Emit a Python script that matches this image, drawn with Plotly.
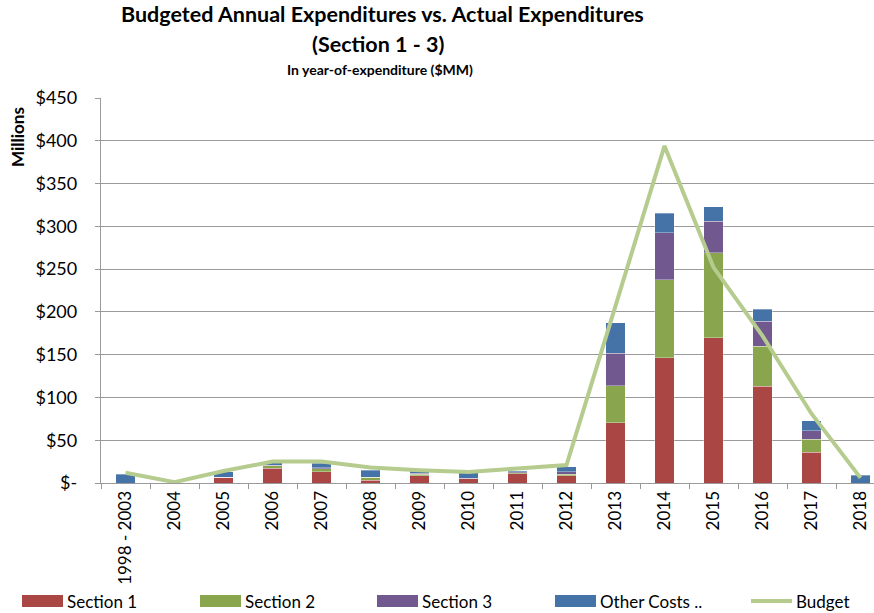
import plotly.graph_objects as go

categories = ["1998 - 2003", "2004", "2005", "2006", "2007", "2008", "2009", "2010",
              "2011", "2012", "2013", "2014", "2015", "2016", "2017", "2018"]
section1 = [0, 0, 7, 17.5, 13, 3.5, 8.5, 5, 11, 8.5, 70.5, 146.5, 170, 113, 36, 0]
section2 = [0, 0, 0, 2.5, 3.5, 3, 2, 0, 1, 1.5, 43, 91, 99, 47, 15, 0]
section3 = [0, 0, 0, 0.5, 1.5, 0.5, 1, 0.5, 1, 3, 38, 55, 37, 29, 10, 0]
other_costs = [10, 0, 6, 3, 5, 8, 2, 6.5, 1.5, 6, 36, 23, 17, 14, 11.5, 9]
budget = [12, 1, 14, 25, 25, 18, 15, 13, 17, 21, 207, 394, 252, 172, 81, 6]

y_tickvals = [0, 50, 100, 150, 200, 250, 300, 350, 400, 450]
y_ticktext = ["$-", "$50", "$100", "$150", "$200", "$250", "$300", "$350", "$400", "$450"]

series_names = ["Section 1", "Section 2", "Section 3", "Other Costs .."]
series_values = [section1, section2, section3, other_costs]
series_colors = ["#AA4643", "#89A54E", "#71588F", "#4572A7"]
budget_color = "#B5CC8E"

W, H = 874, 613
ML, MR, MT, MB = 101, 0, 98, 130
PW = W - ML - MR
PH = H - MT - MB
CAT_W = 49.0

def px_x(px):
    return (px - ML) / PW

def px_y(py):
    return (H - MB - py) / PH

FONT = "Lato, 'Open Sans', sans-serif"

fig = go.Figure()
for name, vals, col in zip(series_names, series_values, series_colors):
    fig.add_trace(go.Bar(
        x=categories, y=vals, name=name, marker_color=col,
        marker_line=dict(color="rgba(255,255,255,0.55)", width=0.6),
        width=0.4, showlegend=False,
    ))
fig.add_trace(go.Scatter(
    x=categories, y=budget, name="Budget", mode="lines",
    line=dict(color=budget_color, width=4), showlegend=False,
))

fig.update_layout(
    width=W, height=H,
    margin=dict(l=ML, r=MR, t=MT, b=MB, autoexpand=False),
    barmode="stack",
    paper_bgcolor="white", plot_bgcolor="white",
    font=dict(family=FONT, color="black"),
    showlegend=False,
)
fig.update_xaxes(
    type="category", range=[-0.5, -0.5 + PW / CAT_W],
    tickangle=-90, tickfont=dict(size=17, family=FONT, color="black"),
    showline=True, linecolor="#9A9A9A", linewidth=1.3,
    ticks="outside", ticklen=5, tickcolor="#9A9A9A", tickson="boundaries",
    showgrid=False,
)
fig.update_yaxes(
    range=[0, 450], tickvals=y_tickvals, ticktext=y_ticktext,
    tickfont=dict(size=18, family=FONT, color="black"),
    showline=True, linecolor="#9A9A9A", linewidth=1.3,
    ticks="outside", ticklen=5, tickcolor="#9A9A9A",
    ticklabelstandoff=14,
    showgrid=True, gridcolor="#9A9A9A", gridwidth=1.3,
    zeroline=False,
)

# Titles
title_lines = [
    ("Budgeted Annual Expenditures vs. Actual Expenditures", 21.5, 14, 382),
    ("(Section 1 - 3)", 21.5, 44, 378),
    ("In year-of-expenditure ($MM)", 14, 70, 380),
]
for txt, size, yc, xc in title_lines:
    fig.add_annotation(
        text="<b>%s</b>" % txt, xref="paper", yref="paper",
        x=px_x(xc), y=px_y(yc), xanchor="center", yanchor="middle",
        showarrow=False, font=dict(size=size, family=FONT, color="black"),
    )

fig.add_annotation(
    text="<b>Millions</b>", textangle=-90, xref="paper", yref="paper",
    x=px_x(17), y=px_y(137), xanchor="center", yanchor="middle",
    showarrow=False, font=dict(size=17, family=FONT, color="black"),
)

# Legend (drawn at the bottom as in the reference)
legend_y = 601
swatch_x = [22, 200, 377, 555]
for x0, name, col in zip(swatch_x, series_names, series_colors):
    fig.add_shape(type="rect", xref="paper", yref="paper",
                  x0=px_x(x0), x1=px_x(x0 + 41), y0=px_y(legend_y + 6), y1=px_y(legend_y - 6),
                  fillcolor=col, line=dict(width=0))
    fig.add_annotation(text=name, xref="paper", yref="paper",
                       x=px_x(x0 + 43), y=px_y(legend_y), xanchor="left", yanchor="middle",
                       showarrow=False, font=dict(size=17, family=FONT, color="black"))
bx = 751
fig.add_shape(type="line", xref="paper", yref="paper",
              x0=px_x(bx), x1=px_x(bx + 41), y0=px_y(legend_y), y1=px_y(legend_y),
              line=dict(color=budget_color, width=4))
fig.add_annotation(text="Budget", xref="paper", yref="paper",
                   x=px_x(bx + 43), y=px_y(legend_y), xanchor="left", yanchor="middle",
                   showarrow=False, font=dict(size=17, family=FONT, color="black"))

fig.write_html("out.html",
               config={"displayModeBar": False},
               post_script="document.body.style.margin='0px';document.body.style.overflow='hidden';")
